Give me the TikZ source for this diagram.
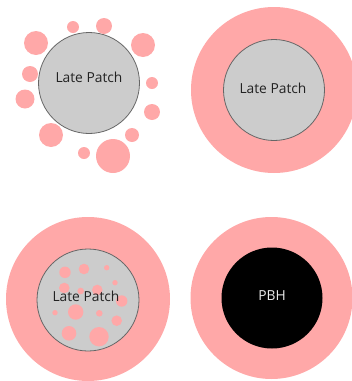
\documentclass[tikz,border=0pt]{standalone}
\usepackage{fontspec}
\setmainfont{Open Sans}
\definecolor{pinkc}{HTML}{FFA8A8}
\definecolor{patchc}{HTML}{CCCCCC}
\definecolor{edgec}{HTML}{666666}
\definecolor{txtc}{HTML}{222222}
\begin{document}
\begin{tikzpicture}[x=1pt,y=-1pt,
  halo/.style={circle,fill=pinkc,draw=none,inner sep=0pt},
  patch/.style={circle,fill=patchc,draw=edgec,line width=0.8pt,inner sep=0pt},
  pbh/.style={circle,fill=black,draw=none,inner sep=0pt},
  lbl/.style={font=\fontsize{13.8}{16}\selectfont,text=txtc,inner sep=0pt},
  dot/.style={fill=pinkc}]
\useasboundingbox (0,0) rectangle (352,381);
% panel 1
\node[patch,minimum size=101pt] (p1) at (89,83) {};
\node[lbl] (t1) at (89,77) {Late Patch};
\foreach \x/\y/\r in {73/27/6, 104/26/8, 36/43/12, 143/45/12, 30/74/8, 152/83/6, 25/99/9.5, 152/112/8, 51/135/12, 132/135/7, 84/153/6, 113/156/17}
  \fill[dot] (\x,\y) circle[radius=\r];
% panel 2
\node[halo,minimum size=166pt] (h2) at (274,90) {};
\node[patch,minimum size=101pt] (p2) at (274,90) {};
\node[lbl] (t2) at (273,88) {Late Patch};
% panel 3
\node[halo,minimum size=164pt] (h3) at (88,299) {};
\node[patch,minimum size=102pt] (p3) at (88,300) {};
\foreach \x/\y/\r in {65/272.3/5.7, 84/269/5.3, 106.7/267.7/2.7, 115/282.7/2.7, 64.3/288/5.3, 80.7/291/3.3, 97.3/290/5.3, 121.7/301/5.7, 55/312.7/2.7, 75.7/312/7.7, 99.3/313.3/3.3, 116.7/320.7/5.3, 69/333.3/7.3, 99/336.7/9.7}
  \fill[dot] (\x,\y) circle[radius=\r];
\node[lbl] (t3) at (86,296.7) {Late Patch};
% panel 4
\node[halo,minimum size=162pt] (h4) at (271.5,298) {};
\node[pbh,minimum size=101pt] (b4) at (272,298) {};
\node[lbl,text=white!92!black] (t4) at (272,296) {PBH};
\end{tikzpicture}
\end{document}
